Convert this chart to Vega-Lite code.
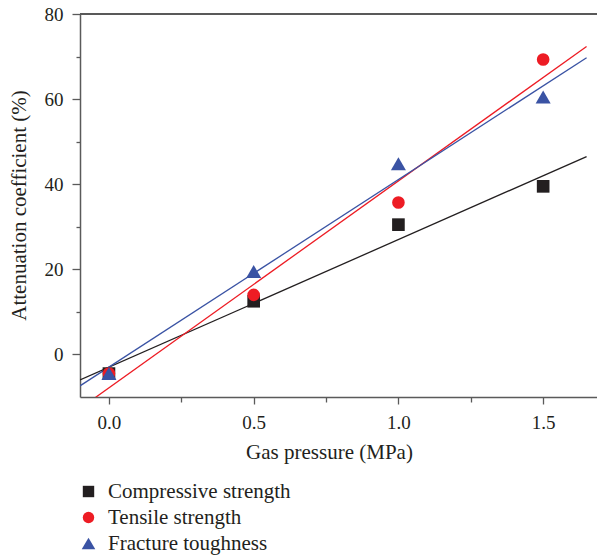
{
  "$schema": "https://vega.github.io/schema/vega-lite/v6.json",
  "width": 517,
  "height": 383,
  "autosize": "none",
  "padding": {"left": 80, "top": 14, "right": 0, "bottom": 162},
  "config": {
    "view": {"stroke": null},
    "font": "Liberation Serif",
    "axis": {"labelFont": "Liberation Serif", "titleFont": "Liberation Serif", "labelColor": "#231f20", "titleColor": "#231f20", "titleFontWeight": "normal", "domainColor": "#5a5a5a", "tickColor": "#5a5a5a", "domainWidth": 1.5, "tickWidth": 1.3, "grid": false},
    "legend": {"labelFont": "Liberation Serif", "labelColor": "#231f20"}
  },
  "data": {
    "values": [
      {"series": "Compressive strength", "pressure": 0.0, "coef": -4.5},
      {"series": "Compressive strength", "pressure": 0.5, "coef": 12.5},
      {"series": "Compressive strength", "pressure": 1.0, "coef": 30.5},
      {"series": "Compressive strength", "pressure": 1.5, "coef": 39.5},
      {"series": "Tensile strength", "pressure": 0.0, "coef": -4.5},
      {"series": "Tensile strength", "pressure": 0.5, "coef": 14.0},
      {"series": "Tensile strength", "pressure": 1.0, "coef": 35.7},
      {"series": "Tensile strength", "pressure": 1.5, "coef": 69.3},
      {"series": "Fracture toughness", "pressure": 0.0, "coef": -4.5},
      {"series": "Fracture toughness", "pressure": 0.5, "coef": 19.5},
      {"series": "Fracture toughness", "pressure": 1.0, "coef": 44.8},
      {"series": "Fracture toughness", "pressure": 1.5, "coef": 60.5}
    ]
  },
  "encoding": {
    "color": {
      "field": "series",
      "type": "nominal",
      "scale": {"domain": ["Compressive strength", "Tensile strength", "Fracture toughness"], "range": ["#231f20", "#ed1c24", "#3a53a4"]},
      "legend": {
        "title": null,
        "orient": "none",
        "legendX": -2,
        "legendY": 467,
        "padding": 0,
        "labelFontSize": 21,
        "labelOffset": 9,
        "labelLimit": 400,
        "rowPadding": 4,
        "symbolSize": 130,
        "symbolStrokeWidth": 0
      }
    }
  },
  "layer": [
    {
      "mark": {"type": "rule", "color": "#5a5a5a", "strokeWidth": 1.5},
      "encoding": {"y": {"datum": 80, "type": "quantitative"}, "color": {"value": "#5a5a5a"}}
    },
    {
      "transform": [
        {"regression": "coef", "on": "pressure", "groupby": ["series"], "extent": [-0.1, 1.65]}
      ],
      "mark": {"type": "line", "clip": true, "strokeWidth": 1.3},
      "encoding": {
        "x": {"field": "pressure", "type": "quantitative"},
        "y": {"field": "coef", "type": "quantitative"}
      }
    },
    {
      "mark": {"type": "point", "filled": true, "opacity": 1, "size": 160},
      "encoding": {
        "x": {
          "field": "pressure",
          "type": "quantitative",
          "scale": {"domain": [-0.1, 1.686], "nice": false, "zero": false},
          "axis": {
            "title": "Gas pressure (MPa)",
            "values": [0, 0.25, 0.5, 0.75, 1, 1.25, 1.5],
            "labelExpr": "(datum.value * 2) % 1 == 0 ? format(datum.value, '.1f') : ''",
            "tickSize": {"condition": {"test": "(datum.value * 2) % 1 == 0", "value": 7}, "value": 5},
            "labelFontSize": 19,
            "labelBaseline": "alphabetic",
            "labelPadding": 24,
            "titleFontSize": 21,
            "titleBaseline": "alphabetic",
            "titleX": 249,
            "titleY": 61
          }
        },
        "y": {
          "field": "coef",
          "type": "quantitative",
          "scale": {"domain": [-10, 80], "nice": false, "zero": false},
          "axis": {
            "title": "Attenuation coefficient (%)",
            "values": [0, 10, 20, 30, 40, 50, 60, 70, 80],
            "labelExpr": "datum.value % 20 == 0 ? format(datum.value, 'd') : ''",
            "tickSize": {"condition": {"test": "datum.value % 20 == 0", "value": 8}, "value": 4},
            "labelFontSize": 19,
            "labelPadding": 9,
            "titleFontSize": 21,
            "titleBaseline": "alphabetic",
            "titleX": -55,
            "titleY": 191
          }
        },
        "shape": {
          "field": "series",
          "type": "nominal",
          "scale": {"domain": ["Compressive strength", "Tensile strength", "Fracture toughness"], "range": ["square", "circle", "M0,-1.03L1.19,1.03L-1.19,1.03Z"]},
          "legend": {
            "title": null,
            "orient": "none",
            "legendX": -2,
            "legendY": 467,
            "padding": 0,
            "labelFontSize": 21,
            "labelOffset": 9,
            "labelLimit": 400,
            "rowPadding": 4,
            "symbolSize": 130,
            "symbolStrokeWidth": 0
          }
        }
      }
    }
  ]
}
